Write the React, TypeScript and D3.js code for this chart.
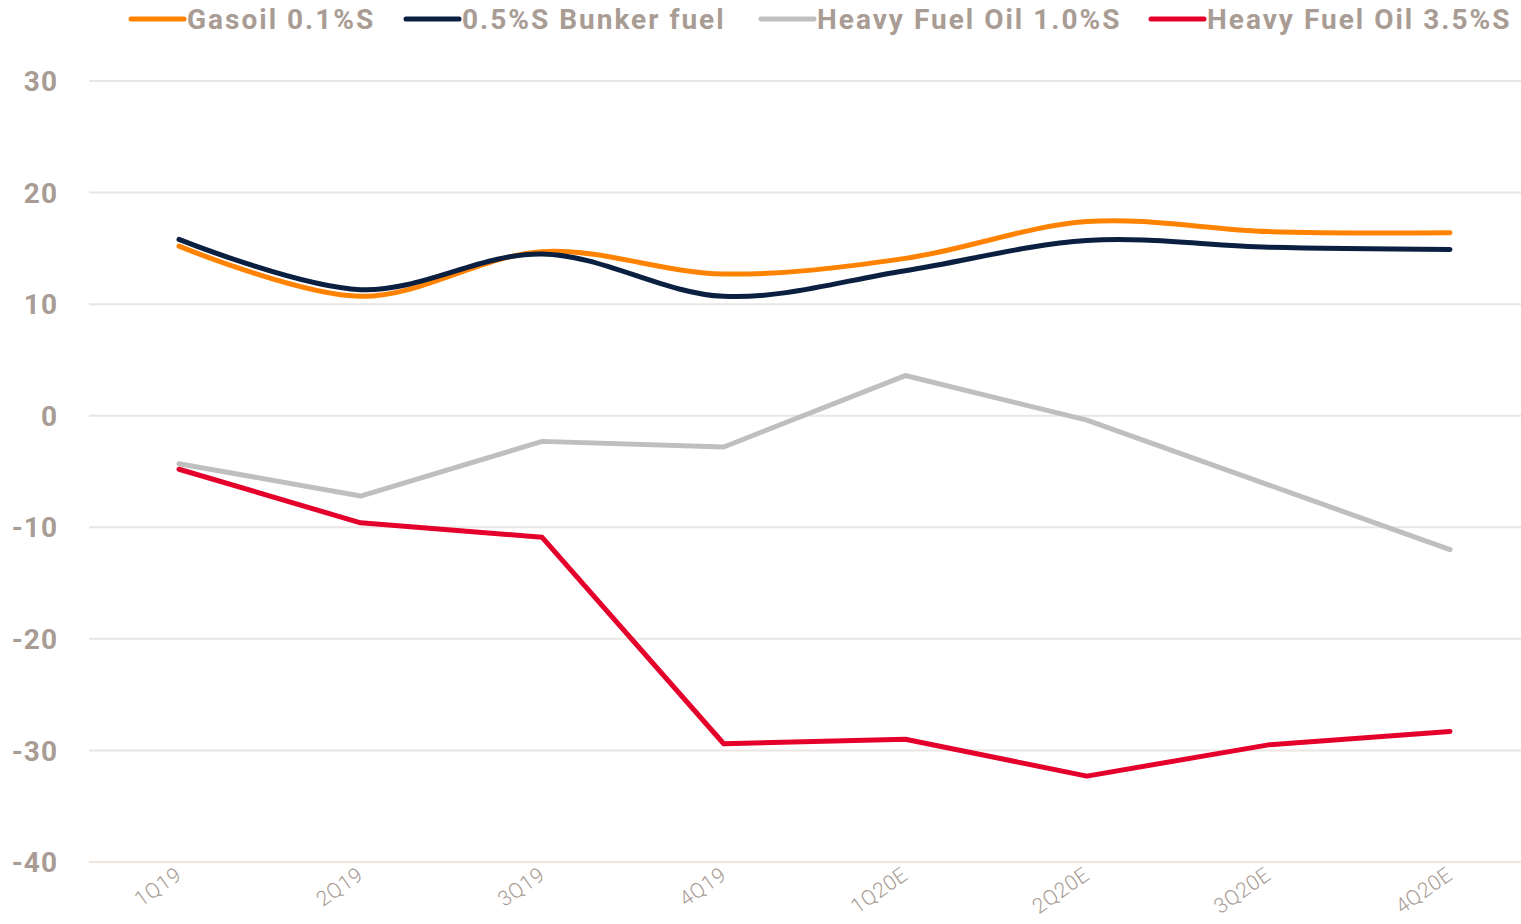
import React, { useEffect, useRef } from "react";
import * as d3 from "d3";

const quarters = ["1Q19", "2Q19", "3Q19", "4Q19", "1Q20E", "2Q20E", "3Q20E", "4Q20E"];
const gasoil = [15.2, 10.7, 14.7, 12.7, 14.1, 17.4, 16.5, 16.4];
const bunker = [15.8, 11.3, 14.5, 10.7, 13.0, 15.7, 15.1, 14.9];
const hfo10 = [-4.3, -7.2, -2.3, -2.8, 3.6, -0.4, -6.2, -12.0];
const hfo35 = [-4.8, -9.6, -10.9, -29.4, -29.0, -32.3, -29.5, -28.3];
const yTicks = [30, 20, 10, 0, -10, -20, -30, -40];
const seriesNames = ["Gasoil 0.1%S", "0.5%S Bunker fuel", "Heavy Fuel Oil 1.0%S", "Heavy Fuel Oil 3.5%S"];
const seriesColors = ["#FF8300", "#0B1F40", "#BFBFBF", "#E4002B"];
const seriesSmooth = [true, true, false, false];
const seriesValues = [gasoil, bunker, hfo10, hfo35];

const W = 1521;
const H = 924;
const TEXT = "#A89C94";

export default function App() {
  const ref = useRef<SVGSVGElement>(null);
  useEffect(() => {
    const svg = d3.select(ref.current);
    svg.selectAll("*").remove();
    const x = d3.scalePoint<string>().domain(quarters).range([179, 1450]);
    const y = d3.scaleLinear().domain([-40, 30]).range([862, 81]);

    const grid = svg.append("g");
    yTicks.forEach((t) => {
      grid
        .append("line")
        .attr("x1", 89)
        .attr("x2", 1521)
        .attr("y1", y(t))
        .attr("y2", y(t))
        .attr("stroke", t === -40 ? "#EDE6E0" : "#E9E6E4")
        .attr("stroke-width", 2);
      grid
        .append("text")
        .attr("x", 58)
        .attr("y", y(t))
        .attr("dy", "0.36em")
        .attr("text-anchor", "end")
        .attr("font-family", "Roboto, sans-serif")
        .attr("font-weight", 700)
        .attr("font-size", 28)
        .attr("letter-spacing", 1)
        .attr("fill", TEXT)
        .text(String(t));
    });

    quarters.forEach((q) => {
      const px = (x(q) as number) + 4;
      svg
        .append("text")
        .attr("transform", `translate(${px},${878}) rotate(-35)`)
        .attr("text-anchor", "end")
        .attr("font-family", "Roboto, sans-serif")
        .attr("font-weight", 300)
        .attr("font-size", 21)
        .attr("letter-spacing", 0.5)
        .attr("fill", TEXT)
        .text(q);
    });

    seriesValues.forEach((vals, i) => {
      const line = d3
        .line<number>()
        .x((_, j) => x(quarters[j]) as number)
        .y((v) => y(v))
        .curve(seriesSmooth[i] ? d3.curveCatmullRom.alpha(0.5) : d3.curveLinear);
      svg
        .append("path")
        .attr("d", line(vals))
        .attr("fill", "none")
        .attr("stroke", seriesColors[i])
        .attr("stroke-width", 5)
        .attr("stroke-linecap", "round")
        .attr("stroke-linejoin", "round");
    });

    const legendX = [131, 406, 761, 1151];
    seriesNames.forEach((name, i) => {
      const g = svg.append("g").attr("transform", `translate(${legendX[i]},19)`);
      g.append("line")
        .attr("x1", 0)
        .attr("x2", 53)
        .attr("stroke", seriesColors[i])
        .attr("stroke-width", 5)
        .attr("stroke-linecap", "round");
      g.append("text")
        .attr("x", 56)
        .attr("dy", "0.36em")
        .attr("font-family", "Roboto, sans-serif")
        .attr("font-weight", 700)
        .attr("font-size", 28)
        .attr("letter-spacing", 2)
        .attr("fill", TEXT)
        .text(name);
    });
  }, []);
  return (
    <svg
      ref={ref}
      width={W}
      height={H}
      style={{ position: "absolute", left: 0, top: 0, background: "#fff" }}
    />
  );
}
